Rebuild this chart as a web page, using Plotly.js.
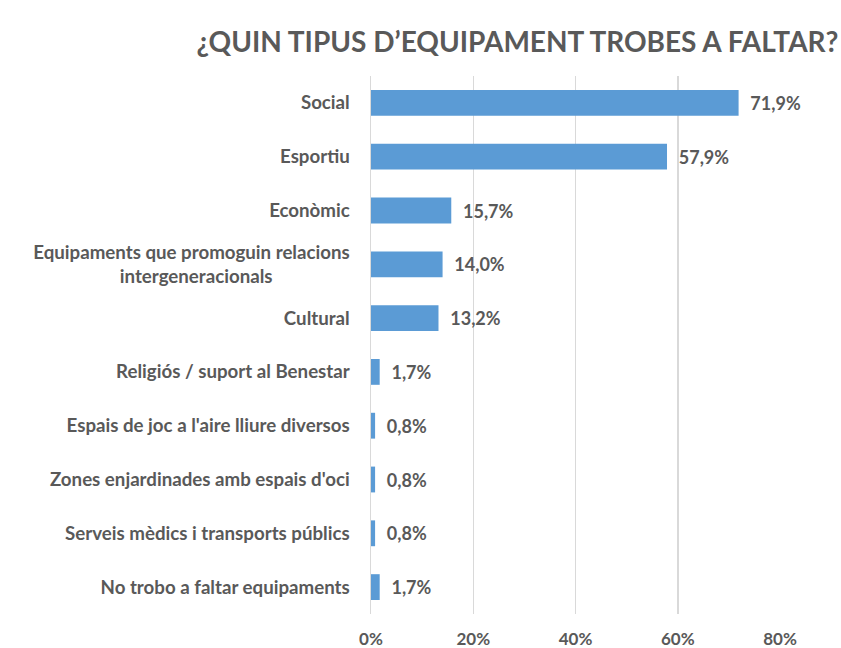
<!DOCTYPE html>
<html><head><meta charset="utf-8">
<script src="https://cdn.plot.ly/plotly-3.0.1.min.js"></script>
<style>body{margin:0;background:#fff}#c{width:841px;height:648px}</style>
</head><body><div id="c"></div>
<script>
const categories = ["Social","Esportiu","Econòmic","Equipaments que promoguin relacions<br>intergeneracionals" + "\u00a0".repeat(17),"Cultural","Religiós / suport al Benestar","Espais de joc a l'aire lliure diversos","Zones enjardinades amb espais d'oci","Serveis mèdics i transports públics","No trobo a faltar equipaments"];
const values = [71.9,57.9,15.7,14.0,13.2,1.7,0.8,0.8,0.8,1.7];
const labels = values.map(v => '\u00a0\u00a0' + v.toFixed(1).replace('.', ',') + '%');
const tickVals = [0,20,40,60,80];
const tickText = ["0%","20%","40%","60%","80%"];
const F = "Lato, 'Open Sans', sans-serif";
const gray = "#595959";
Plotly.newPlot('c', [{
  type: 'bar', orientation: 'h',
  y: categories, x: values,
  text: labels, textposition: 'outside', cliponaxis: false,
  textfont: {family: F, size: 18, color: gray, weight: 'bold'},
  marker: {color: '#5B9BD5'},
  hoverinfo: 'none'
}], {
  width: 841, height: 648,
  margin: {l: 371, r: 61, t: 76, b: 34},
  paper_bgcolor: '#fff', plot_bgcolor: '#fff',
  bargap: 0.52,
  showlegend: false,
  title: {text: "¿QUIN TIPUS D’EQUIPAMENT TROBES A FALTAR?", font: {family: F, size: 28, color: gray, weight: 'bold'},
          xref: 'container', x: 0.997, xanchor: 'right', yref: 'container', y: 1 - 42/648, yanchor: 'middle'},
  xaxis: {range: [0, 80], tickvals: tickVals, ticktext: tickText, showgrid: true, gridcolor: '#d9d9d9', gridwidth: 1.5,
          zeroline: false, showline: false, ticks: '', ticklabelstandoff: 13,
          tickfont: {family: F, size: 17, color: gray, weight: 'bold'}, fixedrange: true},
  yaxis: {autorange: 'reversed', showline: true, linecolor: '#d9d9d9', linewidth: 1.5, ticks: '', ticklabelstandoff: 16,
          tickfont: {family: F, size: 18.7, color: gray, weight: 'bold'}, fixedrange: true}
}, {staticPlot: true});
</script></body></html>
